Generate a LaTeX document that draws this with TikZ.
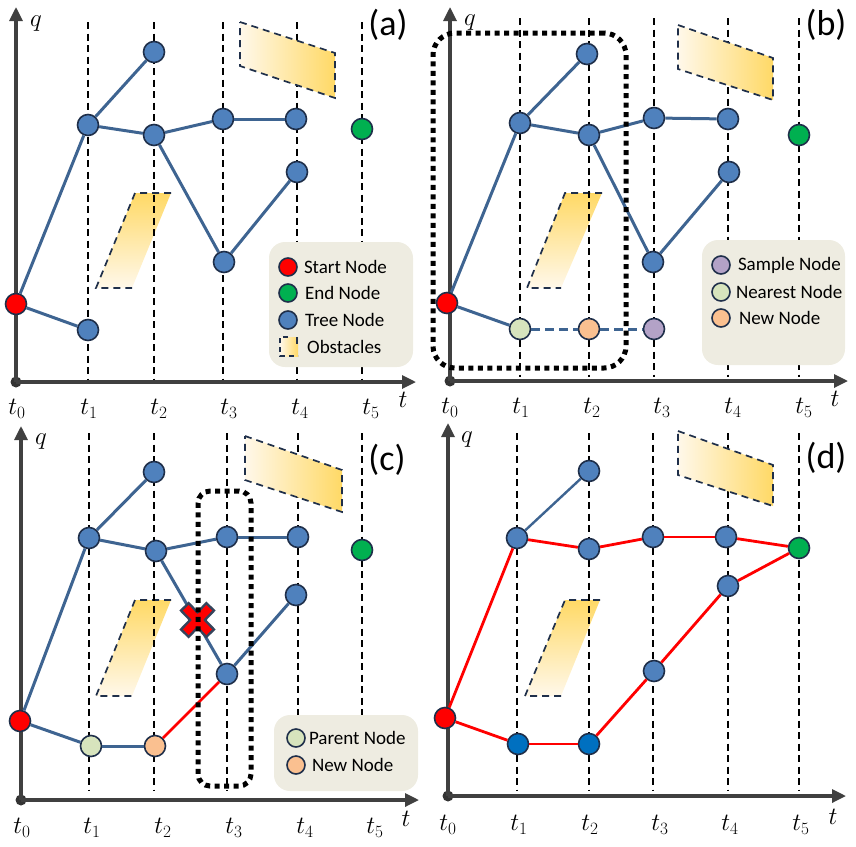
\documentclass[tikz,border=0pt]{standalone}
\usepackage{fontspec}
\newfontfamily\legfont{Carlito}
\usetikzlibrary{positioning,arrows.meta}
\definecolor{treeblue}{HTML}{4F81BD}
\definecolor{pathblue}{HTML}{0070C0}
\definecolor{edgeblue}{HTML}{3E6491}
\definecolor{rimnavy}{HTML}{1F2F4A}
\definecolor{endgreen}{HTML}{00B050}
\definecolor{samplepurple}{HTML}{B3A2C7}
\definecolor{nearestgreen}{HTML}{D7E4BD}
\definecolor{neworange}{HTML}{FAC090}
\definecolor{legendtan}{HTML}{EEECE1}
\definecolor{obsyellow}{HTML}{FFD966}
\definecolor{obslight}{HTML}{FFF8EA}
\definecolor{axisgray}{HTML}{404040}
\begin{document}
\begin{tikzpicture}[x=1pt, y=-1pt,
  axisline/.style={line width=3.2pt, draw=axisgray, -{Triangle[length=14pt,width=13pt]}},
  odot/.style={circle, fill=axisgray!80!black, minimum size=11pt, inner sep=0pt},
  timeline/.style={line width=1.8pt, dash pattern=on 7pt off 4.5pt},
  obsrim/.style={draw=rimnavy, line width=1.7pt, dash pattern=on 7pt off 5pt},
  treenode/.style={circle, draw=rimnavy, line width=1.6pt, fill=treeblue, minimum size=21pt, inner sep=0pt},
  startnode/.style={treenode, fill=red},
  endnode/.style={treenode, fill=endgreen},
  samplenode/.style={treenode, fill=samplepurple},
  nearnode/.style={treenode, fill=nearestgreen},
  parentnode/.style={treenode, fill=nearestgreen},
  newnode/.style={treenode, fill=neworange},
  pathnode/.style={treenode, fill=pathblue},
  keynode/.style={minimum size=18pt},
  tedge/.style={draw=edgeblue, line width=3pt},
  tdash/.style={tedge, dash pattern=on 9pt off 5pt},
  redge/.style={draw=red, line width=2.8pt},
  legbox/.style={fill=legendtan, rounded corners=16pt, inner sep=0pt},
  legtext/.style={font=\legfont\fontsize{19}{22}\selectfont, inner sep=1pt},
  tlabel/.style={font=\fontsize{26}{28}\selectfont},
  panel/.style={font=\legfont\fontsize{36}{38}\selectfont},
  dotbox/.style={draw=black, line width=5pt, dash pattern=on 5pt off 4.5pt}
]
\useasboundingbox (0,0) rectangle (856,846);

% ---------------- (a) ----------------
\shade[top color=obsyellow, bottom color=obslight] (135,193) -- (171,193) -- (132,288) -- (96,288) -- cycle;
\draw[obsrim] (171,193) -- (135,193) -- (96,288) -- (132,288);
\draw[timeline] (88,22) -- (88,380);
\draw[timeline] (154,22) -- (154,380);
\draw[timeline] (223,22) -- (223,380);
\draw[timeline] (297,22) -- (297,380);
\draw[timeline] (362,22) -- (362,380);
\path[obsrim, left color=obslight, right color=obsyellow] (240,22) -- (335,53) -- (335,98) -- (240,66) -- cycle;

\node[odot] (oa) at (16,382) {};
\coordinate (qa) at (16,7);
\coordinate (ra) at (416,382);
\draw[axisline] (oa.center) -- (qa);
\draw[axisline] (oa.center) -- (ra);
\node[tlabel] (qlaba) at (36,24) {$q$};
\node[tlabel] (tlaba) at (403,400) {$t$};
\node[tlabel] (ta0) at (17,409) {$t_0$};
\node[tlabel] (ta1) at (89,409) {$t_1$};
\node[tlabel] (ta2) at (159,409) {$t_2$};
\node[tlabel] (ta3) at (229,409) {$t_3$};
\node[tlabel] (ta4) at (300,409) {$t_4$};
\node[tlabel] (ta5) at (371,409) {$t_5$};

\node[startnode] (a0) at (16,304) {};
\node[treenode] (a1u) at (88,125) {};
\node[treenode] (a1d) at (88,330) {};
\node[treenode] (a2u) at (154,52) {};
\node[treenode] (a2m) at (154,135) {};
\node[treenode] (a3u) at (223,119) {};
\node[treenode] (a3d) at (224,262) {};
\node[treenode] (a4u) at (296,119) {};
\node[treenode] (a4d) at (297,172) {};
\node[endnode] (a5) at (362,129) {};
\draw[tedge] (a0) -- (a1u);
\draw[tedge] (a0) -- (a1d);
\draw[tedge] (a1u) -- (a2u);
\draw[tedge] (a1u) -- (a2m);
\draw[tedge] (a2m) -- (a3u);
\draw[tedge] (a3u) -- (a4u);
\draw[tedge] (a2m) -- (a3d);
\draw[tedge] (a3d) -- (a4d);

\node[legbox, minimum width=144pt, minimum height=125pt] (lega) at (341,304.5) {};
\node[startnode, keynode] (ka1) at (288,267) {};
\node[endnode, keynode] (ka2) at (288,293) {};
\node[treenode, keynode] (ka3) at (288,320) {};
\shade[left color=obslight, right color=obsyellow] (280,337) rectangle (298,356);
\draw[obsrim, dash pattern=on 5pt off 4pt] (288,337) -- (280,337) -- (280,356) -- (298,356);
\draw[obsrim] (297,337) -- (297,344);
\node[legtext, right=5pt of ka1] (kta1) {Start Node};
\node[legtext, right=6pt of ka2] (kta2) {End Node};
\node[legtext, right=6pt of ka3] (kta3) {Tree Node};
\node[legtext, anchor=west] (kta4) at (306,347) {Obstacles};
\node[panel] (pa) at (388,25) {(a)};

% ---------------- (b) ----------------
\shade[top color=obsyellow, bottom color=obslight] (565,193) -- (602,193) -- (561,288) -- (527,288) -- cycle;
\draw[obsrim] (602,193) -- (565,193) -- (527,288) -- (561,288);
\draw[timeline] (520,18) -- (520,377);
\draw[timeline] (589,18) -- (589,377);
\draw[timeline] (654,18) -- (654,377);
\draw[timeline] (728,18) -- (728,377);
\draw[timeline] (799,18) -- (799,377);
\path[obsrim, left color=obslight, right color=obsyellow] (678,25) -- (773,58) -- (773,100) -- (678,69) -- cycle;

\node[odot] (ob) at (450,381) {};
\coordinate (qb) at (450,7);
\coordinate (rb) at (848,381);
\draw[axisline] (ob.center) -- (qb);
\draw[axisline] (ob.center) -- (rb);
\node[tlabel] (qlabb) at (470,23) {$q$};
\node[tlabel] (tlabb) at (835,399) {$t$};
\node[tlabel] (tb0) at (450,408) {$t_0$};
\node[tlabel] (tb1) at (521,408) {$t_1$};
\node[tlabel] (tb2) at (592,408) {$t_2$};
\node[tlabel] (tb3) at (662,408) {$t_3$};
\node[tlabel] (tb4) at (733,408) {$t_4$};
\node[tlabel] (tb5) at (804,408) {$t_5$};

\node[startnode] (b0) at (447,303) {};
\node[treenode] (b1u) at (520,123) {};
\node[nearnode] (b1d) at (520,329) {};
\node[treenode] (b2u) at (587,54) {};
\node[treenode] (b2m) at (589,135) {};
\node[newnode] (b2d) at (589,329) {};
\node[treenode] (b3u) at (654,118) {};
\node[treenode] (b3d) at (653,262) {};
\node[samplenode] (b3s) at (654,329) {};
\node[treenode] (b4u) at (728,119) {};
\node[treenode] (b4d) at (729,172) {};
\node[endnode] (b5) at (799,135) {};
\draw[tedge] (b0) -- (b1u);
\draw[tedge] (b0) -- (b1d);
\draw[tedge] (b1u) -- (b2u);
\draw[tedge] (b1u) -- (b2m);
\draw[tedge] (b2m) -- (b3u);
\draw[tedge] (b3u) -- (b4u);
\draw[tedge] (b2m) -- (b3d);
\draw[tedge] (b3d) -- (b4d);
\draw[tdash] (b1d) -- (b2d);
\draw[tdash] (b2d) -- (b3s);

\node[legbox, minimum width=143pt, minimum height=125pt] (legb) at (773.5,302.5) {};
\node[samplenode, keynode] (kb1) at (721,265) {};
\node[nearnode, keynode] (kb2) at (721,292) {};
\node[newnode, keynode] (kb3) at (721,318) {};
\node[legtext, right=6pt of kb1] (ktb1) {Sample Node};
\node[legtext, right=4pt of kb2] (ktb2) {Nearest Node};
\node[legtext, right=7pt of kb3] (ktb3) {New Node};
\node[dotbox, rounded corners=22pt, minimum width=193pt, minimum height=335pt] (boxb) at (529.5,200.5) {};
\node[panel] (pb) at (826,25) {(b)};

% ---------------- (c) ----------------
\shade[top color=obsyellow, bottom color=obslight] (135,600) -- (171,600) -- (132,696) -- (96,696) -- cycle;
\draw[obsrim] (171,600) -- (135,600) -- (96,696) -- (132,696);
\draw[timeline] (89,433) -- (89,790);
\draw[timeline] (154,433) -- (154,790);
\draw[timeline] (227,433) -- (227,790);
\draw[timeline] (298,433) -- (298,790);
\draw[timeline] (362,433) -- (362,790);
\path[obsrim, left color=obslight, right color=obsyellow] (245,436) -- (342,470) -- (342,512) -- (245,480) -- cycle;

\node[odot] (oc) at (21,800) {};
\coordinate (qc) at (21,426);
\coordinate (rc) at (419,800);
\draw[axisline] (oc.center) -- (qc);
\draw[axisline] (oc.center) -- (rc);
\node[tlabel] (qlabc) at (41,442) {$q$};
\node[tlabel] (tlabc) at (406,819) {$t$};
\node[tlabel] (tc0) at (22,828) {$t_0$};
\node[tlabel] (tc1) at (92,828) {$t_1$};
\node[tlabel] (tc2) at (163,828) {$t_2$};
\node[tlabel] (tc3) at (234,828) {$t_3$};
\node[tlabel] (tc4) at (305,828) {$t_4$};
\node[tlabel] (tc5) at (375,828) {$t_5$};

\node[startnode] (c0) at (20,721) {};
\node[treenode] (c1u) at (89,538) {};
\node[parentnode] (c1d) at (91,746) {};
\node[treenode] (c2u) at (154,472) {};
\node[treenode] (c2m) at (156,551) {};
\node[newnode] (c2d) at (155,746) {};
\node[treenode] (c3u) at (227,537) {};
\node[treenode] (c3d) at (227,674) {};
\node[treenode] (c4u) at (298,537) {};
\node[treenode] (c4d) at (296,595) {};
\node[endnode] (c5) at (362,550) {};
\draw[tedge] (c0) -- (c1u);
\draw[tedge] (c0) -- (c1d);
\draw[tedge] (c1u) -- (c2u);
\draw[tedge] (c1u) -- (c2m);
\draw[tedge] (c2m) -- (c3u);
\draw[tedge] (c3u) -- (c4u);
\draw[tedge] (c2m) -- (c3d);
\draw[tedge] (c3d) -- (c4d);
\draw[tedge] (c1d) -- (c2d);
\draw[redge] (c2d) -- (c3d);
% blocked edge
\draw[line width=13pt, draw=rimnavy!90] (184,606) -- (211,634) (211,606) -- (184,634);
\draw[line width=8pt, draw=red] (185.8,607.8) -- (209.2,632.2) (209.2,607.8) -- (185.8,632.2);

\node[legbox, minimum width=144pt, minimum height=76pt] (legc) at (346,753) {};
\node[parentnode, keynode] (kc1) at (296,738) {};
\node[newnode, keynode] (kc2) at (296,765) {};
\node[legtext, right=2pt of kc1] (ktc1) {Parent Node};
\node[legtext, right=5pt of kc2] (ktc2) {New Node};
\node[dotbox, rounded corners=12pt, minimum width=53pt, minimum height=295pt] (boxc) at (224.5,638.5) {};
\node[panel] (pc) at (387,460) {(c)};

% ---------------- (d) ----------------
\shade[top color=obsyellow, bottom color=obslight] (565,600) -- (600,600) -- (561,696) -- (525,696) -- cycle;
\draw[obsrim] (600,600) -- (565,600) -- (525,696) -- (561,696);
\draw[timeline] (517,433) -- (517,791);
\draw[timeline] (589,433) -- (589,791);
\draw[timeline] (653,433) -- (653,791);
\draw[timeline] (728,433) -- (728,791);
\draw[timeline] (799,433) -- (799,791);
\path[obsrim, left color=obslight, right color=obsyellow] (678,431) -- (773,465) -- (773,506) -- (678,475) -- cycle;

\node[odot] (od) at (448,796) {};
\coordinate (qd) at (448,423);
\coordinate (rd) at (846,796);
\draw[axisline] (od.center) -- (qd);
\draw[axisline] (od.center) -- (rd);
\node[tlabel] (qlabd) at (467,440) {$q$};
\node[tlabel] (tlabd) at (833,817) {$t$};
\node[tlabel] (td0) at (448,825) {$t_0$};
\node[tlabel] (td1) at (519,825) {$t_1$};
\node[tlabel] (td2) at (590,825) {$t_2$};
\node[tlabel] (td3) at (660,825) {$t_3$};
\node[tlabel] (td4) at (730,825) {$t_4$};
\node[tlabel] (td5) at (801,825) {$t_5$};

\node[startnode] (d0) at (445,718) {};
\node[treenode] (d1u) at (517,538) {};
\node[pathnode] (d1d) at (518,744) {};
\node[treenode] (d2u) at (589,471) {};
\node[treenode] (d2m) at (589,549) {};
\node[pathnode] (d2d) at (589,744) {};
\node[treenode] (d3u) at (653,537) {};
\node[treenode] (d3d) at (654,671) {};
\node[treenode] (d4u) at (726,537) {};
\node[treenode] (d4d) at (728,586) {};
\node[endnode] (d5) at (799,548) {};
\draw[tedge, line width=2.4pt] (d1u) -- (d2u);
\draw[redge] (d0) -- (d1u);
\draw[redge] (d1u) -- (d2m);
\draw[redge] (d2m) -- (d3u);
\draw[redge] (d3u) -- (d4u);
\draw[redge] (d4u) -- (d5);
\draw[redge] (d0) -- (d1d);
\draw[redge] (d1d) -- (d2d);
\draw[redge] (d2d) -- (d3d);
\draw[redge] (d3d) -- (d4d);
\draw[redge] (d4d) -- (d5);
\node[panel] (pd) at (826,458) {(d)};
\end{tikzpicture}
\end{document}
